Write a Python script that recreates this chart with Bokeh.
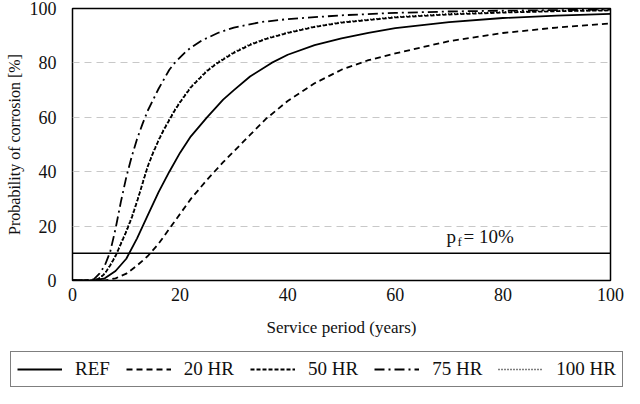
from bokeh.plotting import figure
from bokeh.models import Legend, LegendItem, Span
from bokeh.core.properties import value
from bokeh.embed import file_html
from bokeh.resources import INLINE

# curves (service period in years, probability in %)
ref_t = [0, 4, 6, 8, 10, 12, 14, 16, 18, 20, 22, 25, 28, 30, 33, 37, 40, 45, 50, 55, 60, 70, 80, 90, 100]
ref_p = [0, 0, 0.8, 3.5, 8, 15.5, 24, 32.5, 40, 47, 53, 60, 66.5, 70, 75, 80, 83, 86.5, 89, 91, 92.8, 95, 96.5, 97.4, 98]

hr20_t = [0, 6, 8, 10, 12, 14, 16, 18, 20, 22, 25, 28, 30, 33, 36, 40, 45, 50, 55, 60, 70, 80, 90, 100]
hr20_p = [0, 0, 0.8, 2.5, 5.5, 9, 13.5, 19, 24.5, 30, 37, 43.5, 47.5, 53.5, 59.5, 66, 72.5, 77.5, 81, 83.5, 88, 91, 93, 94.5]

hr50_t = [0, 4, 5, 6, 7, 8, 9, 10, 11, 12, 13, 14, 15, 16, 17, 18, 19, 20, 22, 25, 27, 30, 33, 36, 40, 45, 50, 60, 70, 80, 90, 100]
hr50_p = [0, 0, 0.8, 2.5, 5.5, 9, 13.5, 18, 23, 29, 35.5, 42, 47, 51.5, 55.5, 59, 62.5, 65.5, 71, 77, 80, 83.7, 86.6, 88.8, 91, 93.2, 94.8, 96.7, 97.8, 98.5, 99, 99.3]

hr75_t = [0, 3, 4, 5, 6, 7, 8, 9, 10, 11, 12, 13, 14, 15, 16, 17, 18, 19, 20, 21, 22, 24, 27, 30, 35, 40, 50, 60, 70, 80, 90, 100]
hr75_p = [0, 0, 0.5, 2.5, 5.5, 10.5, 19, 29, 38, 45.5, 52, 57.5, 62.5, 66.5, 70.5, 74, 77.5, 80, 82, 84, 85.6, 88.2, 91, 93, 95, 96.1, 97.5, 98.4, 98.9, 99.2, 99.4, 99.6]

hr100_t = [0, 4, 5, 6, 7, 8, 9, 10, 11, 12, 13, 14, 15, 16, 17, 18, 19, 20, 22, 25, 27, 30, 33, 36, 40, 45, 50, 60, 70, 80, 90, 100]
hr100_p = [0, 0, 0.9, 2.6, 5.7, 9.2, 13.7, 18.3, 23.3, 29.3, 35.8, 42.3, 47.3, 51.8, 55.8, 59.3, 62.8, 65.8, 71.3, 77.3, 80.3, 84, 86.9, 89, 91.2, 93.4, 95, 96.9, 98, 98.7, 99.1, 99.4]

labels = ["REF", "20 HR", "50 HR", "75 HR", "100 HR"]
dashes = ["solid", "6 4", "4 2", "10 4 2 4", "1 2"]
widths = [1.8, 1.8, 1.8, 1.8, 1.5]

pf_level = 10
ticks = [0, 20, 40, 60, 80, 100]

FONT = "Liberation Serif"

p = figure(width=624, height=350, x_range=(0, 100), y_range=(0, 100),
           output_backend="svg", toolbar_location=None, tools="",
           min_border_left=72, min_border_right=14, min_border_top=8, min_border_bottom=70)

p.outline_line_color = "black"
p.outline_line_width = 1.5
p.background_fill_color = "white"
p.border_fill_color = "white"

p.xgrid.grid_line_color = None
p.ygrid.grid_line_color = "#c8c8c8"
p.ygrid.grid_line_dash = "7 5"
p.ygrid.grid_line_width = 1.2

p.xaxis.ticker = ticks
p.yaxis.ticker = ticks
p.xaxis.axis_label = "Service period (years)"
p.yaxis.axis_label = "Probability of corrosion [%]"
for ax in [p.xaxis, p.yaxis]:
    ax.axis_line_color = None
    ax.major_tick_line_color = None
    ax.minor_tick_line_color = None
    ax.major_tick_out = 0
    ax.major_tick_in = 0
    ax.minor_tick_out = 0
    ax.major_label_text_font = FONT
    ax.major_label_text_font_size = "18px"
    ax.major_label_text_color = "#111111"
    ax.axis_label_text_font = FONT
    ax.axis_label_text_font_size = "17px"
    ax.axis_label_text_font_style = "normal"
    ax.axis_label_text_color = "#111111"
p.yaxis.axis_label_text_font_size = "16px"
p.xaxis.major_label_standoff = 7
p.xaxis.axis_label_standoff = 14
p.yaxis.major_label_standoff = 16
p.yaxis.axis_label_standoff = 4

# pf = 10% line
p.add_layout(Span(location=pf_level, dimension="width", line_color="black", line_width=1.5))

series = [(ref_t, ref_p), (hr20_t, hr20_p), (hr50_t, hr50_p), (hr75_t, hr75_p), (hr100_t, hr100_p)]
for (t, pr), dash, w in zip(series, dashes, widths):
    p.line(t, pr, line_color="black", line_width=w, line_dash=dash)

# label p_f = 10%
p.text(x=[69.5], y=[16.3], text=["p"], text_font=value(FONT), text_font_size="19px",
       text_baseline="middle", text_color="#111111")
p.text(x=[69.5], y=[16.3], text=["f"], text_font=value(FONT), text_font_size="13px",
       text_baseline="middle", text_color="#111111", x_offset=11, y_offset=5)
p.text(x=[69.5], y=[16.3], text=["= 10%"], text_font=value(FONT), text_font_size="19px",
       text_baseline="middle", text_color="#111111", x_offset=17)

# legend strip below the chart (lines drawn out of view, only their legend shows)
lg = figure(width=624, height=38, x_range=(0, 100), y_range=(1000, 1100),
            output_backend="svg", toolbar_location=None, tools="",
            min_border_left=0, min_border_right=0, min_border_top=0, min_border_bottom=0)
lg.axis.visible = False
lg.grid.grid_line_color = None
lg.outline_line_color = None
items = []
for lab, (t, pr), dash, w in zip(labels, series, dashes, widths):
    r = lg.line(t, pr, line_color="black", line_width=w, line_dash=dash)
    items.append(LegendItem(label=lab, renderers=[r]))
legend = Legend(items=items, orientation="horizontal", location=(10, 1),
                glyph_width=45, glyph_height=16, label_standoff=13, spacing=16,
                padding=6, margin=0, border_line_color="black", border_line_width=1.5,
                label_text_font=FONT, label_text_font_size="19px", label_text_color="#111111",
                background_fill_alpha=1)
lg.add_layout(legend, "center")

open("out.html", "w").write(file_html([p, lg], INLINE))
